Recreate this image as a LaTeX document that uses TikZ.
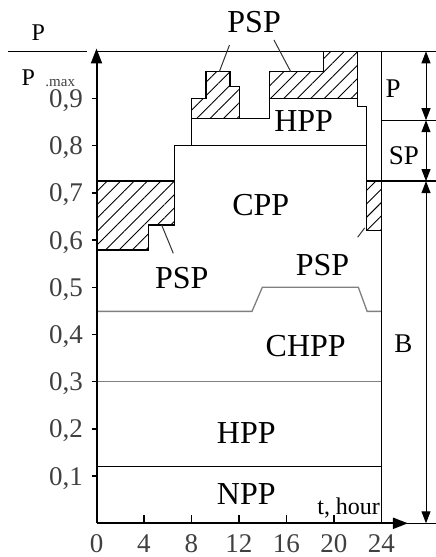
\documentclass[tikz,border=0pt]{standalone}
\usepackage{fontspec}
\setmainfont{Liberation Serif}
\usepackage{tikz}
\usetikzlibrary{arrows.meta,patterns.meta,positioning}

\tikzset{
  outline/.style={line width=1.3pt},
  greyline/.style={line width=1.3pt, color=black!50},
  hatch/.style={outline, pattern={Lines[angle=45,distance=9.5pt,line width=0.9pt]}},
  axis/.style={line width=2pt, -{Triangle[length=15pt,width=11pt]}},
  dim/.style={line width=1pt, {Triangle[length=12pt,width=9pt]}-{Triangle[length=12pt,width=9pt]}},
  leader/.style={line width=1pt, color=black!80},
  lbl/.style={font=\fontsize{32}{32}\selectfont, inner sep=0pt},
  sidelbl/.style={font=\fontsize{27}{27}\selectfont, inner sep=0pt},
  ticklbl/.style={font=\fontsize{27}{27}\selectfont, text=black!75, inner sep=0pt, text depth=0pt},
}

\begin{document}
\begin{tikzpicture}[x=11.87pt, y=472pt]
\useasboundingbox (-8.13,-0.0714) rectangle (28.60,1.1087);

% hatched parts (PSP)
\draw[hatch] (0,0.725) -- (6.56,0.725) -- (6.56,0.632) -- (4.38,0.632) -- (4.38,0.579) -- (0,0.579) -- cycle;
\draw[hatch] (8.02,0.858) -- (8.02,0.9) -- (9.22,0.9) -- (9.22,0.957) -- (11.25,0.957) -- (11.25,0.926) -- (12.03,0.926) -- (12.03,0.858) -- cycle;
\draw[hatch] (14.56,0.9) -- (14.56,0.957) -- (19.1,0.957) -- (19.1,1.0) -- (22.0,1.0) -- (22.0,0.9) -- cycle;
\draw[hatch] (22.76,0.725) -- (24,0.725) -- (24,0.621) -- (22.76,0.621) -- cycle;

% CPP and HPP outlines
\draw[outline] (6.56,0.725) -- (6.56,0.8) -- (22.76,0.8);
\draw[outline] (8.02,0.8) -- (8.02,0.858) -- (14.56,0.858) -- (14.56,0.9);
\draw[outline] (22.0,0.9) -- (22.0,0.883) -- (22.76,0.883) -- (22.76,0.725);

% base load lines
\draw[greyline] (0,0.449) -- (13.1,0.449) -- (13.97,0.5) -- (22.06,0.5) -- (22.8,0.449) -- (24,0.449);
\draw[greyline] (0,0.3) -- (24,0.3);
\draw[outline] (0,0.12) -- (24,0.12);

% frame on the right
\draw[outline] (0,1) -- (28.6,1);
\draw[outline] (24,0) -- (24,1);
\draw[outline] (24,0.854) -- (28.6,0.854);
\draw[outline] (24,0.725) -- (28.6,0.725);
\draw[outline] (24,0) -- (28.6,0);

% axes
\draw[axis] (0,0) -- (26.24,0);
\draw[axis] (0,0) -- (0,1.006);
\foreach \t in {4,8,...,20}
  \draw[outline] (\t,0) -- (\t,0.017);
\foreach \t in {0,4,...,24}
  \node[ticklbl, anchor=north] (xt\t) at (\t,-0.0237) {\t};
\foreach \v in {1,...,9}
  {\draw[outline] (-0.42,0.\v) -- (0,0.\v);
   \node[ticklbl, anchor=east] (yt\v) at (-1.14,0.\v) {0,\v};}

% axis titles
\node[font=\fontsize{24}{24}\selectfont, inner sep=0pt] (pnum) at (-4.9,1.040) {P};
\draw[line width=1.3pt] (-7.43,1) -- (-0.77,1);
\node[font=\fontsize{24}{24}\selectfont, inner sep=0pt] (pden) at (-5.74,0.9445) {P};
\node[font=\fontsize{15}{15}\selectfont, inner sep=0pt, anchor=base west, text=black!75] (pmax) at ([xshift=10pt,yshift=-1.5pt]pden.base east) {.max};
\node[font=\fontsize{24}{24}\selectfont, inner sep=0pt, anchor=base east] (thour) at (23.9,0.0197) {t, hour};

% plant labels
\node[lbl] (psptop) at (13.28,1.063) {PSP};
\node[lbl] (hpptop) at (17.45,0.852) {HPP};
\node[lbl] (cpp) at (13.84,0.674) {CPP};
\node[lbl] (pspleft) at (7.18,0.519) {PSP};
\node[lbl] (pspright) at (19.04,0.547) {PSP};
\node[lbl] (chpp) at (17.63,0.376) {CHPP};
\node[lbl] (hpp) at (12.62,0.191) {HPP};
\node[lbl] (npp) at (12.62,0.0627) {NPP};

% leaders
\coordinate (l1a) at (11.2,1.013);  \coordinate (l1b) at (10.35,0.957);
\coordinate (l2a) at (14.95,1.024); \coordinate (l2b) at (16.36,0.957);
\coordinate (l3a) at (5.49,0.632);  \coordinate (l3b) at (6.47,0.572);
\coordinate (l4a) at (22.6,0.626);  \coordinate (l4b) at (22.0,0.606);
\draw[leader] (l1a) -- (l1b);
\draw[leader] (l2a) -- (l2b);
\draw[leader] (l3a) -- (l3b);
\draw[leader] (l4a) -- (l4b);

% load zones
\coordinate (d1) at (27.76,1);
\coordinate (d2) at (27.76,0.854);
\coordinate (d3) at (27.76,0.725);
\coordinate (d4) at (27.76,0);
\draw[dim] (d1) -- (d2);
\draw[dim] (d2) -- (d3);
\draw[dim] (d3) -- (d4);
\node[sidelbl] (zp) at (25.0,0.92) {P};
\node[sidelbl] (zsp) at (25.9,0.778) {SP};
\node[sidelbl] (zb) at (25.85,0.381) {B};
\end{tikzpicture}
\end{document}
